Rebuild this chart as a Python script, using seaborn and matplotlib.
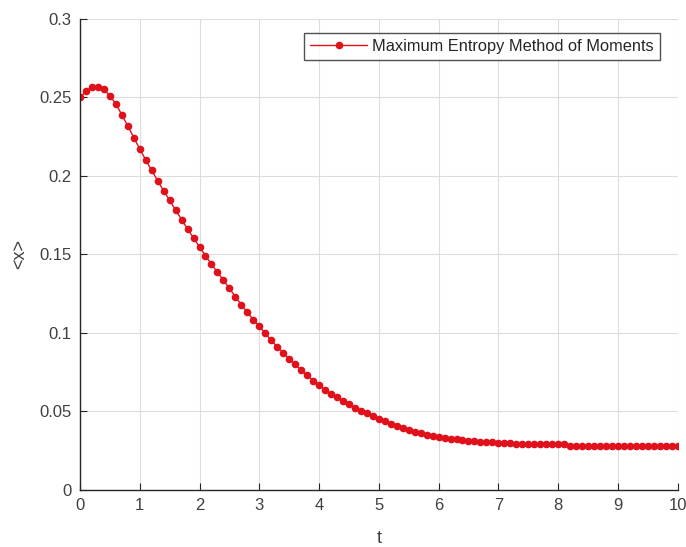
import numpy as np
import pandas as pd
import matplotlib
matplotlib.use("Agg")
import matplotlib.pyplot as plt
import seaborn as sns

# Mean value <x> over time, sampled every 0.1 time units
t_values = [round(0.1 * i, 1) for i in range(101)]
mean_x = [
    0.2500, 0.2540, 0.2565, 0.2568, 0.2553, 0.2510, 0.2460, 0.2390, 0.2318, 0.2245,
    0.2172, 0.2102, 0.2035, 0.1970, 0.1905, 0.1845, 0.1783, 0.1722, 0.1662, 0.1605,
    0.1548, 0.1492, 0.1438, 0.1387, 0.1336, 0.1284, 0.1232, 0.1180, 0.1132, 0.1085,
    0.1042, 0.0998, 0.0953, 0.0912, 0.0874, 0.0836, 0.0800, 0.0765, 0.0730, 0.0697,
    0.0667, 0.0639, 0.0613, 0.0590, 0.0566, 0.0545, 0.0525, 0.0506, 0.0488, 0.0470,
    0.0453, 0.0437, 0.0422, 0.0408, 0.0395, 0.0383, 0.0372, 0.0362, 0.0353, 0.0345,
    0.0338, 0.0332, 0.0327, 0.0322, 0.0318, 0.0314, 0.0311, 0.0308, 0.0305, 0.0303,
    0.0301, 0.0299, 0.0297, 0.0296, 0.0295, 0.0294, 0.0293, 0.0292, 0.0291, 0.0291,
    0.0290, 0.0290, 0.0282, 0.0282, 0.0282, 0.0282, 0.0282, 0.0282, 0.0282, 0.0282,
    0.0282, 0.0282, 0.0282, 0.0282, 0.0282, 0.0282, 0.0282, 0.0282, 0.0282, 0.0282,
    0.0282,
]
series_label = "Maximum Entropy Method of Moments"
x_ticks = [0, 1, 2, 3, 4, 5, 6, 7, 8, 9, 10]
y_ticks = [0, 0.05, 0.1, 0.15, 0.2, 0.25, 0.3]
y_tick_labels = ["0", "0.05", "0.1", "0.15", "0.2", "0.25", "0.3"]

df = pd.DataFrame({"t": t_values, "x": mean_x, "method": series_label})

sns.set_style("white")
plt.rcParams["font.family"] = ["Liberation Sans", "DejaVu Sans"]

fig = plt.figure(figsize=(6.86, 5.47), dpi=100)
ax = fig.add_axes([0.1166, 0.1042, 0.8712, 0.8611])

line_color = "#e0111a"
sns.lineplot(data=df, x="t", y="x", hue="method", palette=[line_color],
             marker="o", markersize=5.5, markeredgewidth=0, linewidth=1.0,
             ax=ax, legend=True)

ax.set_xlim(0, 10)
ax.set_ylim(0, 0.3)
ax.set_xticks(x_ticks)
ax.set_xticklabels([str(v) for v in x_ticks])
ax.set_yticks(y_ticks)
ax.set_yticklabels(y_tick_labels)

ax.grid(True, color="#dcdcdc", linewidth=0.8)
ax.set_axisbelow(True)
for side in ("top", "right"):
    ax.spines[side].set_visible(False)
for side in ("left", "bottom"):
    ax.spines[side].set_color("#262626")
    ax.spines[side].set_linewidth(1.0)

ax.tick_params(axis="both", direction="in", length=5, width=0.8,
               colors="#262626", labelsize=12, labelcolor="#404040", pad=6)
ax.tick_params(axis="both", top=False, right=False, left=True, bottom=True)

ax.set_xlabel("t", fontsize=13, color="#404040", labelpad=12)
ax.set_ylabel("<x>", fontsize=13, color="#404040", labelpad=8)

leg = ax.legend(loc="upper right", bbox_to_anchor=(0.970, 0.97),
                frameon=True, fancybox=False, fontsize=11.8,
                handlelength=3.5, handletextpad=0.3, borderpad=0.35,
                borderaxespad=0.0)
leg.get_frame().set_edgecolor("#262626")
leg.get_frame().set_linewidth(1.0)
for txt in leg.get_texts():
    txt.set_color("#262626")

fig.savefig("out.png", dpi=100)
